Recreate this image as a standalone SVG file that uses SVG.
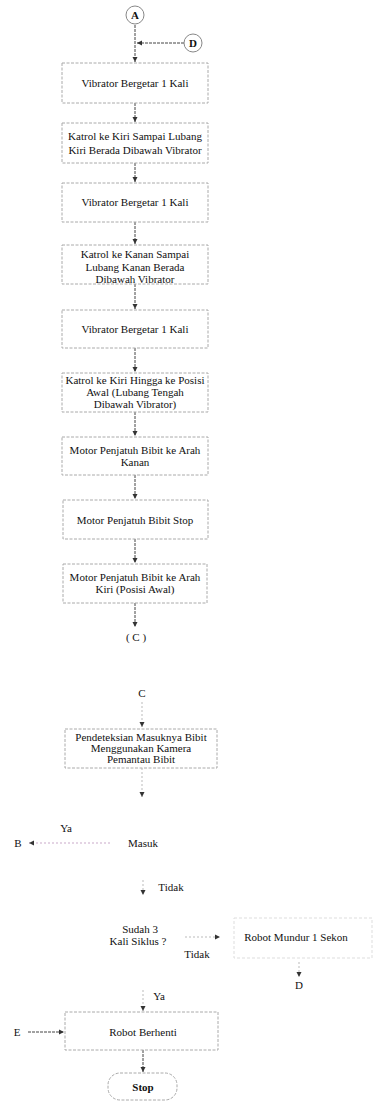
<svg xmlns="http://www.w3.org/2000/svg" width="373" height="1102" viewBox="0 0 373 1102">
<defs>
<marker id="ah" markerWidth="6" markerHeight="6" refX="5" refY="3" orient="auto" markerUnits="userSpaceOnUse">
<path d="M0,0.5 L5,3 L0,5.5 Z" fill="#333"/>
</marker>
<style>
.box{fill:#fff;stroke:#aaa;stroke-width:1;stroke-dasharray:3,1.5}
.faint{fill:none;stroke:#ddd;stroke-width:1;stroke-dasharray:3,2}
.t{font-family:"Liberation Serif",serif;font-size:11px;fill:#111;text-anchor:middle}
.c{fill:none;stroke:#444;stroke-width:1;stroke-dasharray:3,1}
.cf{fill:none;stroke:#bbb;stroke-width:1;stroke-dasharray:2,2}
.cp{fill:none;stroke:#c9a9c9;stroke-width:1;stroke-dasharray:2,2}
.circ{fill:#fff;stroke:#888;stroke-width:1}
</style>
</defs>
<rect width="373" height="1102" fill="#fff"/>
<g id="connectors">
<line class="c" x1="135" y1="25" x2="135" y2="62" marker-end="url(#ah)"/>
<line class="c" x1="184" y1="43" x2="137" y2="43" marker-end="url(#ah)"/>
<line class="c" x1="135" y1="103" x2="135" y2="122" marker-end="url(#ah)"/>
<line class="c" x1="135" y1="163" x2="135" y2="182" marker-end="url(#ah)"/>
<line class="c" x1="135" y1="222" x2="135" y2="244" marker-end="url(#ah)"/>
<line class="c" x1="135" y1="284" x2="135" y2="309" marker-end="url(#ah)"/>
<line class="c" x1="135" y1="348" x2="135" y2="372" marker-end="url(#ah)"/>
<line class="c" x1="135" y1="412" x2="135" y2="436" marker-end="url(#ah)"/>
<line class="c" x1="135" y1="475" x2="135" y2="499" marker-end="url(#ah)"/>
<line class="c" x1="135" y1="539" x2="135" y2="563" marker-end="url(#ah)"/>
<line class="c" x1="135" y1="603" x2="135" y2="627" marker-end="url(#ah)"/>
<line class="cf" x1="142" y1="702" x2="142" y2="727" marker-end="url(#ah)"/>
<line class="cf" x1="142" y1="768" x2="142" y2="797" marker-end="url(#ah)"/>
<line class="cp" x1="110" y1="843" x2="29" y2="843" marker-end="url(#ah)"/>
<line class="cf" x1="143" y1="880" x2="143" y2="895" marker-end="url(#ah)"/>
<line class="cf" x1="185" y1="937" x2="220" y2="937" marker-end="url(#ah)"/>
<line class="cf" x1="299" y1="962" x2="299" y2="977" marker-end="url(#ah)"/>
<line class="cf" x1="143" y1="990" x2="143" y2="1011" marker-end="url(#ah)"/>
<line class="c" x1="28" y1="1032" x2="64" y2="1032" marker-end="url(#ah)"/>
<line class="c" x1="143" y1="1050" x2="143" y2="1072" marker-end="url(#ah)"/>
</g>
<g id="nA"><circle class="circ" cx="135" cy="15" r="9"/><text class="t" x="135" y="19" font-weight="bold">A</text></g>
<g id="nD1"><circle class="circ" cx="193" cy="43" r="9"/><text class="t" x="193" y="47" font-weight="bold">D</text></g>
<g id="n1"><rect class="box" x="62" y="63" width="146" height="40"/><text class="t" x="135" y="87">Vibrator Bergetar 1 Kali</text></g>
<g id="n2"><rect class="box" x="62" y="123" width="146" height="40"/><text class="t" x="135" y="140">Katrol ke Kiri Sampai Lubang</text><text class="t" x="135" y="154">Kiri Berada Dibawah Vibrator</text></g>
<g id="n3"><rect class="box" x="62" y="183" width="146" height="39"/><text class="t" x="135" y="206">Vibrator Bergetar 1 Kali</text></g>
<g id="n4"><rect class="box" x="62" y="245" width="146" height="39"/><text class="t" x="135" y="258">Katrol ke Kanan Sampai</text><text class="t" x="135" y="271">Lubang Kanan Berada</text><text class="t" x="135" y="283">Dibawah Vibrator</text></g>
<g id="n5"><rect class="box" x="62" y="310" width="146" height="38"/><text class="t" x="135" y="333">Vibrator Bergetar 1 Kali</text></g>
<g id="n6"><rect class="box" x="62" y="373" width="146" height="39"/><text class="t" x="135" y="384">Katrol ke Kiri Hingga ke Posisi</text><text class="t" x="135" y="396">Awal (Lubang Tengah</text><text class="t" x="135" y="408">Dibawah Vibrator)</text></g>
<g id="n7"><rect class="box" x="62" y="437" width="146" height="38"/><text class="t" x="135" y="454">Motor Penjatuh Bibit ke Arah</text><text class="t" x="135" y="466">Kanan</text></g>
<g id="n8"><rect class="box" x="63" y="500" width="145" height="39"/><text class="t" x="135" y="524">Motor Penjatuh Bibit Stop</text></g>
<g id="n9"><rect class="box" x="63" y="564" width="144" height="39"/><text class="t" x="135" y="581">Motor Penjatuh Bibit ke Arah</text><text class="t" x="135" y="593">Kiri (Posisi Awal)</text></g>
<g id="nC1"><text class="t" x="136" y="641">( C )</text></g>
<g id="nC2"><text class="t" x="142" y="697">C</text></g>
<g id="n10"><rect class="box" x="65" y="729" width="152" height="39"/><text class="t" x="141" y="741">Pendeteksian Masuknya Bibit</text><text class="t" x="141" y="752">Menggunakan Kamera</text><text class="t" x="141" y="763">Pemantau Bibit</text></g>
<g id="nMasuk"><text class="t" x="143" y="847">Masuk</text><text class="t" x="66" y="832">Ya</text><text class="t" x="171" y="891">Tidak</text></g>
<g id="nB"><text class="t" x="18" y="847">B</text></g>
<g id="nSudah"><text class="t" x="140" y="933">Sudah 3</text><text class="t" x="138" y="945">Kali Siklus ?</text><text class="t" x="197" y="958">Tidak</text><text class="t" x="159" y="1000">Ya</text></g>
<g id="nMundur"><rect class="faint" x="234" y="918" width="138" height="40"/><text class="t" x="296" y="941">Robot Mundur 1 Sekon</text></g>
<g id="nD2"><text class="t" x="299" y="989">D</text></g>
<g id="nE"><text class="t" x="17" y="1036">E</text></g>
<g id="nBerhenti"><rect class="box" x="65" y="1012" width="153" height="38"/><text class="t" x="143" y="1036">Robot Berhenti</text></g>
<g id="nStop"><rect class="box" x="108" y="1073" width="69" height="27" rx="12"/><text class="t" x="143" y="1091" font-weight="bold">Stop</text></g>
</svg>
